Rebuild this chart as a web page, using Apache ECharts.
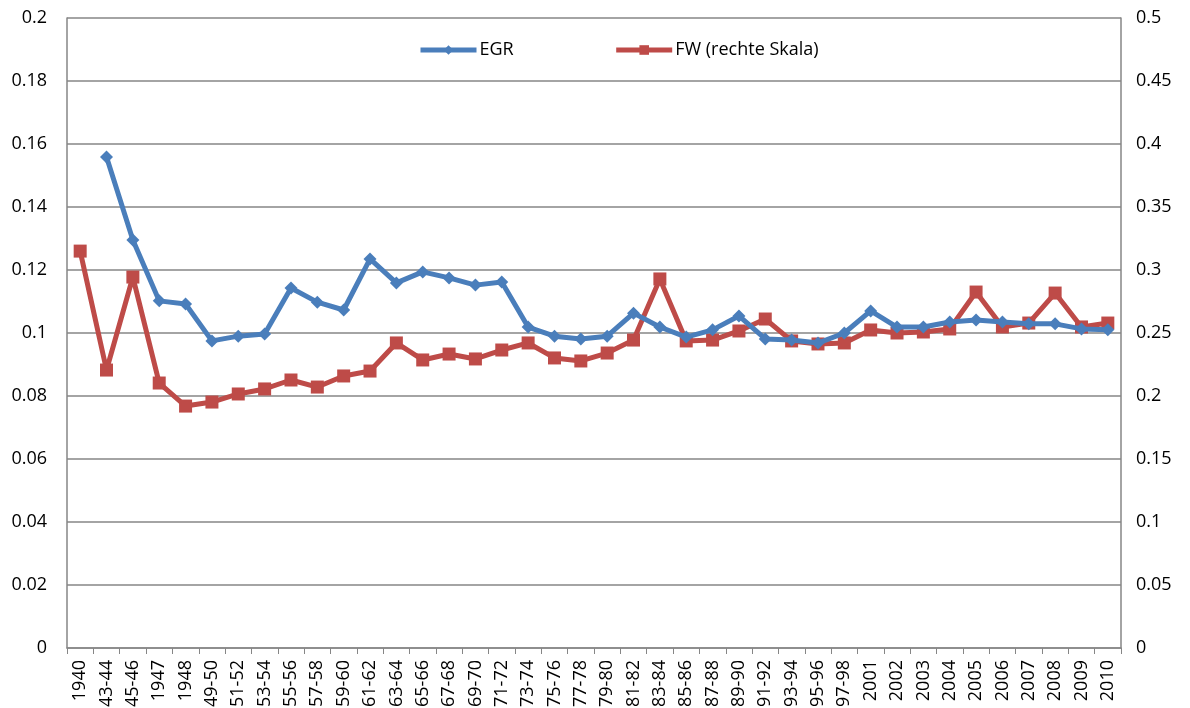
<!DOCTYPE html>
<html>
<head>
<meta charset="utf-8">
<script src="https://cdn.jsdelivr.net/npm/echarts@6/dist/echarts.min.js"></script>
<style>
  html, body { margin: 0; padding: 0; background: #fff; }
  #chart { width: 1190px; height: 708px; }
</style>
</head>
<body>
<div id="chart"></div>
<script>
// categories on the x axis
const categories = [
  "1940", "1943-44", "1945-46", "1947", "1948", "1949-50", "1951-52", "1953-54",
  "1955-56", "1957-58", "1959-60", "1961-62", "1963-64", "1965-66", "1967-68",
  "1969-70", "1971-72", "1973-74", "1975-76", "1977-78", "1979-80", "1981-82",
  "1983-84", "1985-86", "1987-88", "1989-90", "1991-92", "1993-94", "1995-96",
  "1997-98", "2001", "2002", "2003", "2004", "2005", "2006", "2007", "2008",
  "2009", "2010"
];

// EGR (left axis)
const egrValues = [
  null, 0.1559, 0.1295, 0.1102, 0.1092, 0.0975, 0.0990, 0.0997,
  0.1143, 0.1098, 0.1073, 0.1235, 0.1159, 0.1194, 0.1175,
  0.1152, 0.1162, 0.1019, 0.0990, 0.0981, 0.0990, 0.1063,
  0.1019, 0.0987, 0.1010, 0.1054, 0.0981, 0.0978, 0.0968,
  0.1000, 0.1070, 0.1019, 0.1019, 0.1035, 0.1041, 0.1035, 0.1029, 0.1029,
  0.1013, 0.1010
];

// FW (right axis)
const fwValues = [
  0.315, 0.2206, 0.2944, 0.2103, 0.1920, 0.1952, 0.2016, 0.2056,
  0.2127, 0.2071, 0.2159, 0.2198, 0.2421, 0.2286, 0.2333,
  0.2294, 0.2365, 0.2421, 0.2302, 0.2278, 0.2341, 0.2444,
  0.2929, 0.2437, 0.2444, 0.2516, 0.2611, 0.2437, 0.2413,
  0.2421, 0.2524, 0.2500, 0.2508, 0.2532, 0.2825, 0.2548, 0.2579, 0.2817,
  0.2548, 0.2579
];

const seriesNames = ["EGR", "FW (rechte Skala)"];

const chart = echarts.init(document.getElementById("chart"));
const font = "'Open Sans', Lato, sans-serif";
const axisGrey = "#868686";

const option = {
  animation: false,
  backgroundColor: "#fff",
  textStyle: { fontFamily: font },
  grid: { left: 67, right: 69, top: 18, bottom: 60, containLabel: false, outerBoundsMode: "none" },
  legend: {
    top: 36,
    left: 413,
    itemGap: 100,
    itemWidth: 56,
    itemHeight: 12,
    lineStyle: { width: 5 },
    textStyle: { fontSize: 18, color: "#000", fontFamily: font, padding: [0, 0, 0, -2] },
    data: seriesNames
  },
  xAxis: {
    type: "category",
    data: categories,
    boundaryGap: true,
    axisLine: { lineStyle: { color: axisGrey, width: 1.5 } },
    axisTick: { show: true, length: 6, alignWithLabel: false, lineStyle: { color: axisGrey } },
    axisLabel: {
      interval: 0,
      rotate: 90,
      fontSize: 18,
      color: "#000",
      margin: 12,
      fontFamily: font
    }
  },
  yAxis: [
    {
      type: "value",
      min: 0,
      max: 0.2,
      interval: 0.02,
      axisLine: { show: true, lineStyle: { color: axisGrey, width: 1.5 } },
      axisTick: { show: false },
      splitLine: { show: true, lineStyle: { color: axisGrey, width: 1.5 } },
      axisLabel: { fontSize: 18, color: "#000", margin: 20, fontFamily: font }
    },
    {
      type: "value",
      min: 0,
      max: 0.5,
      interval: 0.05,
      position: "right",
      axisLine: { show: true, lineStyle: { color: axisGrey, width: 1.5 } },
      axisTick: { show: false },
      splitLine: { show: false },
      axisLabel: { fontSize: 18, color: "#000", margin: 15, fontFamily: font }
    }
  ],
  series: [
    {
      name: seriesNames[0],
      type: "line",
      yAxisIndex: 0,
      data: egrValues,
      color: "#4a7ebb",
      symbol: "diamond",
      symbolSize: 13,
      lineStyle: { width: 5 },
      itemStyle: { color: "#4a7ebb" },
      z: 3
    },
    {
      name: seriesNames[1],
      type: "line",
      yAxisIndex: 1,
      data: fwValues,
      color: "#be4b48",
      symbol: "rect",
      symbolSize: 13,
      lineStyle: { width: 5 },
      itemStyle: { color: "#be4b48" },
      z: 2
    }
  ]
};

chart.setOption(option);
</script>
</body>
</html>
